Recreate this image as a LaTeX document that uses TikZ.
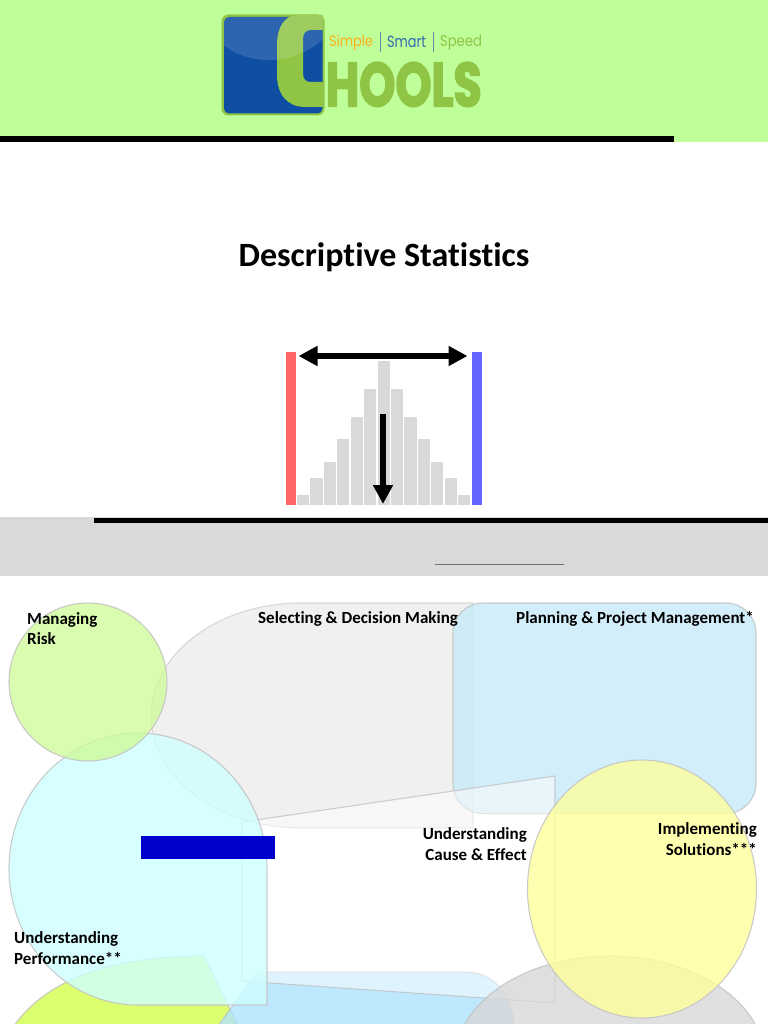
\documentclass[tikz,border=0pt]{standalone}
\usepackage{graphicx}
\usepackage{fontspec}
\setmainfont{Carlito}[Ligatures=CommonOff]
\newfontfamily\logofont{Poppins}
\newfontfamily\hoolsfont{Poppins}[BoldFeatures={FakeBold=3}]
\usetikzlibrary{arrows.meta}
\definecolor{bandgreen}{HTML}{BFFF99}
\definecolor{bandgrey}{HTML}{D9D9D9}
\definecolor{logogreen}{HTML}{8FC445}
\definecolor{logoblue}{HTML}{0E4FA3}
\definecolor{cGreen}{HTML}{CFFB9C}
\definecolor{cCyan}{HTML}{CEFFFF}
\definecolor{cGrey}{HTML}{ECECEC}
\definecolor{cPlan}{HTML}{C7EAF9}
\definecolor{cYellow}{HTML}{FFFF9C}
\definecolor{cLime}{HTML}{D3FF4C}
\definecolor{cBlue}{HTML}{AEE2FD}
\definecolor{cGreyB}{HTML}{D8D8D8}
\tikzset{
  blob/.style={draw=black!24,line width=1.1pt,fill opacity=.8,draw opacity=.85},
  veil/.style={draw=black!24,line width=1.1pt,fill=white,fill opacity=.5,draw opacity=.8},
  lbl/.style={inner sep=0pt,font=\fontsize{17}{20.6}\selectfont\bfseries},
  histbar/.style={fill=black!15},
  bigarrow/.style={line width=6.2pt,black},
  tagword/.style={inner sep=0pt,font=\logofont\fontsize{14.5}{16}\selectfont}
}
\begin{document}
\begin{tikzpicture}[x=1pt,y=-1pt]
\useasboundingbox (0,0) rectangle (768,1024);
\clip (0,0) rectangle (768,1024);
% bands
\fill[bandgreen] (0,0) rectangle (768,142);
\fill[black] (0,136.5) rectangle (674,142);
\fill[bandgrey] (0,517) rectangle (768,576);
\fill[black] (94,517.5) rectangle (768,523);
\draw[black!55,line width=.9pt] (435,564.5) -- (564,564.5);
% logo
\fill[logogreen,rounded corners=7pt] (221.5,14.5) rectangle (324.5,115.5);
\fill[logoblue,rounded corners=5pt] (224,17) rectangle (322.5,113.5);
\begin{scope}
  \clip[rounded corners=5pt] (224,17) rectangle (322.5,113.5);
  \fill[white,opacity=.13] (220,10) -- (220,42) .. controls (245,66) and (295,68) .. (326,36) -- (326,10) -- cycle;
\end{scope}
\fill[logogreen] (323,15) -- (298,15) .. controls (284,15) and (277,28) .. (277,45) -- (277,75)
  .. controls (277,95) and (288,107) .. (305,107) -- (323,107) -- (323,82) -- (310,82)
  .. controls (305,82) and (303,78) .. (303,73) -- (303,39) .. controls (303,33) and (306,30) .. (311,30) -- (323,30) -- cycle;
\begin{scope}
  \clip (220,10) -- (220,42) .. controls (245,66) and (295,68) .. (326,36) -- (326,10) -- cycle;
  \fill[white,opacity=.15] (323,15) -- (298,15) .. controls (284,15) and (277,28) .. (277,45) -- (277,75) -- (303,75) -- (303,39) .. controls (303,33) and (306,30) .. (311,30) -- (323,30) -- cycle;
\end{scope}
\node[inner sep=0pt,anchor=north west,text=logogreen] (hools) at (325.5,62) {\resizebox{156pt}{44pt}{\hoolsfont\bfseries HOOLS}};
\node[tagword,anchor=center,text=orange!70!yellow!90!white] (simple) at (351,42.5) {\resizebox{44pt}{11.5pt}{Simple}};
\node[tagword,anchor=center,text=logoblue!85!white] (smart) at (406.5,41.5) {\resizebox{39pt}{11.5pt}{Smart}};
\node[tagword,anchor=center,text=logogreen] (speed) at (461,42.5) {\resizebox{42pt}{11.5pt}{Speed}};
\draw[black!30!logoblue!60!white,line width=.8pt] (380,32) -- (380,52);
\draw[black!30!logoblue!60!white,line width=.8pt] (433,32) -- (433,52);
% title
\node[inner sep=0pt,font=\fontsize{34}{40}\selectfont\bfseries] (title) at (384,257) {Descriptive Statistics};
% histogram
\foreach \i/\t in {0/495,1/478,2/462,3/439.3,4/417.3,5/389,6/360.7,7/389,8/417.3,9/439.3,10/462,11/478,12/495}{
  \fill[histbar] ({297+13.42*\i},\t) rectangle ({309.2+13.42*\i},505);
}
\fill[red!60!white] (286,351.5) rectangle (296,505);
\fill[blue!60!white] (472,351.5) rectangle (482,505);
\coordinate (hl) at (298.5,356);
\coordinate (hr) at (467.5,356);
\coordinate (vt) at (383,414);
\coordinate (vb) at (383,504);
\draw[bigarrow,{Triangle[length=19pt,width=19pt]}-{Triangle[length=19pt,width=19pt]}] (hl) -- (hr);
\draw[bigarrow,-{Triangle[length=19pt,width=19pt]}] (vt) -- (vb);
% overlapping shapes
\draw[blob,draw opacity=.6,fill=cGrey] (301,603) -- (473,603) -- (473,828) -- (301,828) .. controls (218,828) and (151,778) .. (151,716) .. controls (151,654) and (218,603) .. (301,603) -- cycle;
\draw[blob,fill=cPlan,rounded corners=30pt] (453,603) rectangle (756,813.5);
\draw[blob,fill=cLime] (204,956) .. controls (120,956) and (40,975) .. (5,1040) -- (245,1040) -- cycle;
\draw[blob,fill=cBlue] (257,972) -- (465,972) .. controls (495,972) and (513,995) .. (514,1030) -- (215,1030) -- cycle;
\draw[veil] (242,822) -- (555,776) -- (555,1003) -- (242,981) -- cycle;
\draw[blob,fill=cCyan] (267,869) .. controls (267,794) and (209,733) .. (138,733) .. controls (67,733) and (9,794) .. (9,869) .. controls (9,944) and (67,1005) .. (138,1005) -- (267,1005) -- cycle;
\draw[blob,fill=cGreyB] (610,1061) ellipse [x radius=155,y radius=105];
\draw[blob,fill=cYellow] (642,889) ellipse [x radius=114.5,y radius=129];
\draw[blob,fill=cGreen] (88,682) circle [radius=79];
\fill[blue!80!black] (140.5,835.5) rectangle (275,859);
% labels
\node[lbl,anchor=west,align=left] (risk) at (27,628.5) {Managing\\Risk};
\node[lbl,anchor=west] (select) at (258,618.5) {Selecting \& Decision Making};
\node[lbl,anchor=east] (plan) at (754,618.5) {Planning \& Project Management*};
\node[lbl,anchor=east,align=right] (cause) at (527,844) {Understanding\\Cause \& Effect};
\node[lbl,anchor=east,align=right] (impl) at (757,839) {Implementing\\Solutions***};
\node[lbl,anchor=west,align=left] (perf) at (14,948) {Understanding\\Performance**};
\end{tikzpicture}
\end{document}
